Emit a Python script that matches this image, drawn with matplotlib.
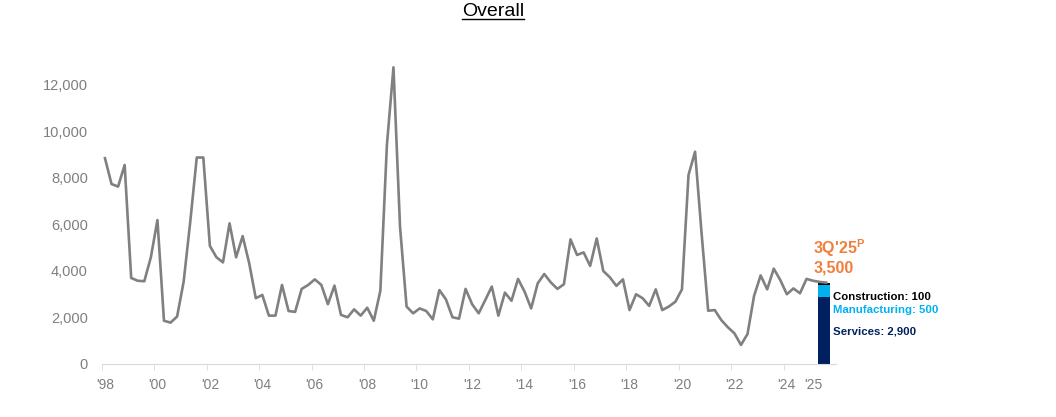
import numpy as np
import matplotlib
matplotlib.use("Agg")
import matplotlib.pyplot as plt
from matplotlib.ticker import FuncFormatter

plt.rcParams['font.family'] = ['Liberation Sans', 'DejaVu Sans']

# quarterly values, 1Q98 .. 3Q25
values = [
    8850, 7740, 7630, 8560, 3700, 3580, 3560, 4590,   # 98-99
    6190, 1860, 1780, 2040, 3540, 6100, 8880, 8880,   # 00-01
    5080, 4590, 4370, 6050, 4590, 5500, 4330, 2830,   # 02-03
    2970, 2080, 2080, 3400, 2280, 2240, 3230, 3400,   # 04-05
    3640, 3400, 2570, 3370, 2110, 2010, 2350, 2080,   # 06-07
    2420, 1860, 3150, 9420, 12760, 5910, 2470, 2180,  # 08-09
    2390, 2280, 1920, 3180, 2780, 2010, 1950, 3230,   # 10-11
    2570, 2180, 2750, 3330, 2080, 3070, 2720, 3660,   # 12-13
    3110, 2390, 3470, 3870, 3510, 3230, 3430, 5360,   # 14-15
    4690, 4800, 4220, 5400, 4000, 3730, 3360, 3640,   # 16-17
    2320, 3000, 2830, 2500, 3210, 2320, 2470, 2680,   # 18-19
    3210, 8130, 9130, 5600, 2290, 2320, 1890, 1580,   # 20-21
    1320, 820, 1290, 2930, 3810, 3210, 4100, 3610,    # 22-23
    3000, 3250, 3040, 3660, 3580, 3530, 3500,         # 24-25
]
year_labels = ["'98", "'00", "'02", "'04", "'06", "'08", "'10", "'12",
               "'14", "'16", "'18", "'20", "'22", "'24", "'25"]
label_pos = [0, 8, 16, 24, 32, 40, 48, 56, 64, 72, 80, 88, 96, 104, 108]

# latest quarter breakdown
sectors = ["Services", "Manufacturing", "Construction"]
sector_vals = [2900, 500, 100]
sector_colors = ["#002060", "#00B0F0", "#000000"]
latest_label = "3Q'25"
latest_total = 3500

x = np.arange(len(values))

fig = plt.figure(figsize=(10.56, 4.17), dpi=100)
ax = fig.add_axes([0.0963, 0.1271, 0.6954, 0.7806])

ax.plot(x, values, color="#808080", lw=1.9, zorder=3)

# stacked bar for the latest quarter
bottom = 0
for name, v, c in zip(sectors, sector_vals, sector_colors):
    ax.bar(x[-1] - 0.35, v, bottom=bottom, width=1.9, color=c, zorder=2)
    bottom += v

ax.set_xlim(-0.5, 111.5)
ax.set_ylim(0, 14000)
ax.set_yticks(np.arange(0, 12001, 2000))
ax.yaxis.set_major_formatter(FuncFormatter(lambda v, p: f"{int(v):,}"))

ax.set_xticks(label_pos)
ax.set_xticklabels(year_labels)
ax.set_xticks([p - 0.5 for p in label_pos[:-1]], minor=True)
ax.tick_params(axis="x", which="major", length=0, pad=10, labelsize=10, labelcolor="#7F7F7F")
ax.tick_params(axis="x", which="minor", length=4, color="#D9D9D9", direction="out")
ax.tick_params(axis="y", length=0, pad=10, labelsize=10.5, labelcolor="#7F7F7F")

for s in ["top", "right", "left"]:
    ax.spines[s].set_visible(False)
ax.spines["bottom"].set_color("#D9D9D9")

# annotations
orange = "#F07F3C"
ax.text(108.0, 4970, latest_label + r"$^{\mathregular{P}}$", color=orange,
        fontsize=11.5, fontweight="bold", ha="left", va="center")
ax.text(108.0, 4150, f"{latest_total:,}", color=orange,
        fontsize=11.5, fontweight="bold", ha="left", va="center")

ax.text(111.1, 2880, f"Construction: {sector_vals[2]:,}", color="#000000",
        fontsize=8.2, fontweight="bold", ha="left", va="center", clip_on=False)
ax.text(111.1, 2320, f"Manufacturing: {sector_vals[1]:,}", color=sector_colors[1],
        fontsize=8.2, fontweight="bold", ha="left", va="center", clip_on=False)
ax.text(111.1, 1380, f"Services: {sector_vals[0]:,}", color=sector_colors[0],
        fontsize=8.2, fontweight="bold", ha="left", va="center", clip_on=False)

title = fig.text(0.467, 0.972, "Overall", ha="center", va="center", fontsize=14)
# underline the title
fig.canvas.draw()
bb = title.get_window_extent()
inv = fig.transFigure.inverted()
(x0, y0), (x1, y1) = inv.transform([[bb.x0, bb.y0], [bb.x1, bb.y1]])
fig.add_artist(plt.Line2D([x0, x1], [y0 + 0.004, y0 + 0.004], color="black", lw=1,
                          transform=fig.transFigure))

fig.savefig("out.png", dpi=100)
